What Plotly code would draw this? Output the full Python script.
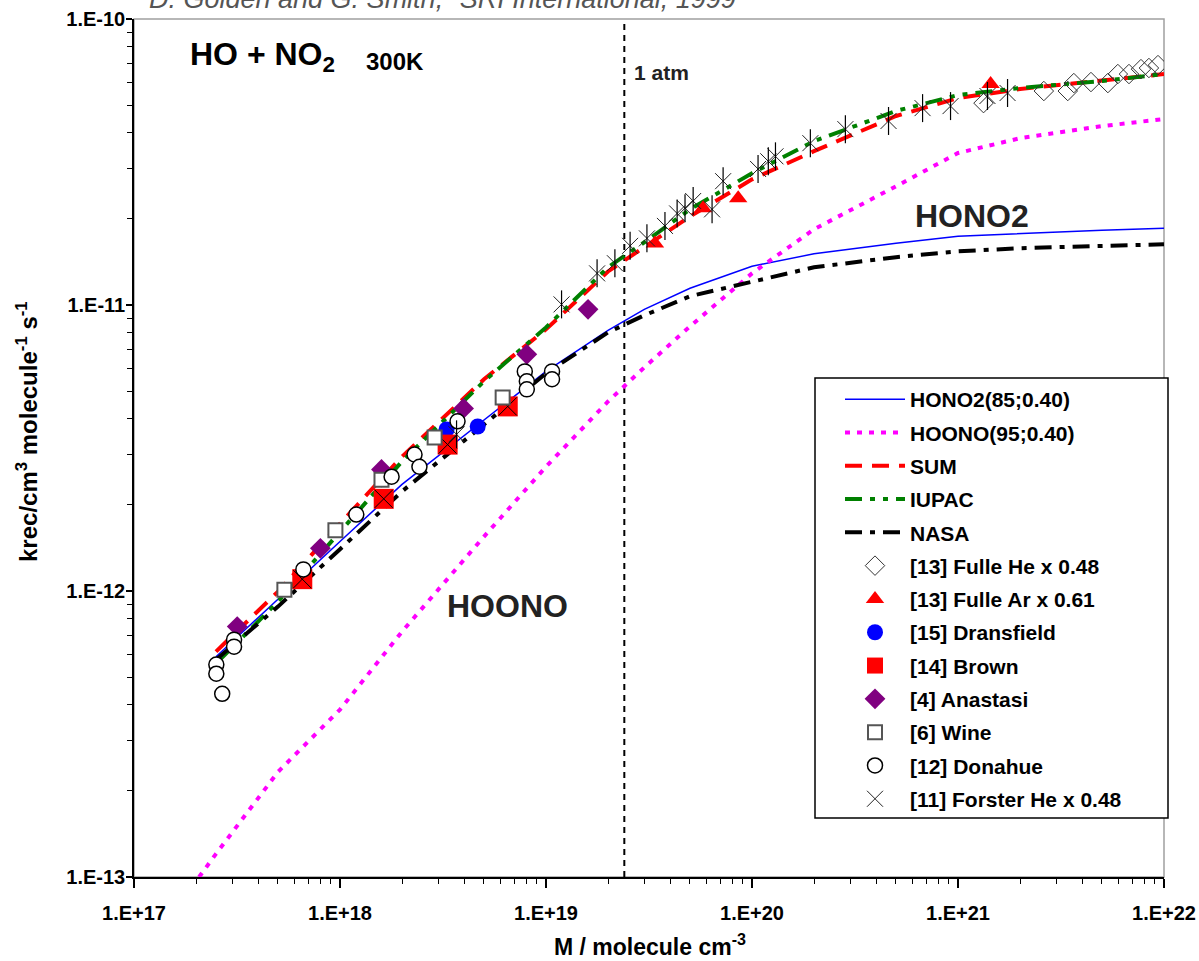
import plotly.graph_objects as go

# ---------------- data ----------------
M_CURVE = [2.5e17, 5e17, 1e18, 2e18, 5e18, 1e19, 2e19, 3e19, 5e19, 1e20, 2e20, 5e20, 1e21, 2e21, 5e21, 1e22]
K_HONO2 = [5.89e-13, 9.4e-13, 1.49e-12, 2.36e-12, 3.95e-12, 5.86e-12, 8.15e-12, 9.66e-12, 1.144e-11,
           1.366e-11, 1.51e-11, 1.644e-11, 1.74e-11, 1.78e-11, 1.826e-11, 1.855e-11]
K_SUM = [6.14e-13, 9.95e-13, 1.72e-12, 2.95e-12, 5.50e-12, 8.22e-12, 1.31e-11, 1.59e-11, 2.04e-11,
         2.75e-11, 3.45e-11, 4.58e-11, 5.29e-11, 5.69e-11, 6.07e-11, 6.42e-11]
K_IUPAC = [5.57e-13, 9.18e-13, 1.61e-12, 2.84e-12, 5.41e-12, 8.35e-12, 1.355e-11, 1.657e-11, 2.16e-11,
           2.89e-11, 3.74e-11, 4.77e-11, 5.42e-11, 5.74e-11, 6.07e-11, 6.42e-11]
K_NASA = [5.75e-13, 8.82e-13, 1.40e-12, 2.23e-12, 3.82e-12, 5.77e-12, 8.02e-12, 9.20e-12, 1.073e-11,
          1.21e-11, 1.355e-11, 1.47e-11, 1.54e-11, 1.58e-11, 1.606e-11, 1.63e-11]

M_HOONO = [2.07e17, 2.5e17, 5e17, 1e18, 2e18, 5e18, 1e19, 2e19, 3e19, 5e19, 1e20, 2e20, 5e20, 1e21, 2e21, 5e21, 1e22]
K_HOONO = [1.0e-13, 1.205e-13, 2.33e-13, 3.85e-13, 7.21e-13, 1.55e-12, 2.72e-12, 4.60e-12, 6.05e-12,
           8.42e-12, 1.29e-11, 1.84e-11, 2.60e-11, 3.40e-11, 3.83e-11, 4.22e-11, 4.47e-11]

M_FULLE_HE = [1.33e21, 2.61e21, 3.41e21, 3.65e21, 4.42e21, 5.34e21, 5.97e21, 6.76e21, 7.73e21, 8.45e21, 9.35e21]
K_FULLE_HE = [5.08e-11, 5.60e-11, 5.60e-11, 5.97e-11, 6.02e-11, 5.97e-11, 6.42e-11, 6.42e-11, 6.68e-11, 6.74e-11, 6.90e-11]

M_FULLE_AR = [3.38e19, 5.79e19, 8.57e19, 1.44e21]
K_FULLE_AR = [1.64e-11, 2.18e-11, 2.36e-11, 5.92e-11]

M_DRANSFIELD = [3.29e18, 4.66e18]
K_DRANSFIELD = [3.67e-12, 3.76e-12]

M_BROWN = [6.56e17, 1.63e18, 3.33e18, 6.52e18]
K_BROWN = [1.10e-12, 2.10e-12, 3.25e-12, 4.42e-12]

M_ANASTASI = [3.17e17, 8.03e17, 1.59e18, 3.98e18, 8.07e18, 1.60e19]
K_ANASTASI = [7.51e-13, 1.41e-12, 2.66e-12, 4.35e-12, 6.72e-12, 9.66e-12]

M_WINE = [5.37e17, 9.50e17, 1.59e18, 2.88e18, 6.16e18]
K_WINE = [1.01e-12, 1.63e-12, 2.45e-12, 3.44e-12, 4.75e-12]

M_DONAHUE = [2.51e17, 2.51e17, 2.68e17, 3.06e17, 3.06e17, 6.64e17, 1.20e18, 1.78e18, 2.30e18,
             2.43e18, 3.72e18, 7.89e18, 8.07e18, 8.07e18, 1.07e19, 1.07e19]
K_DONAHUE = [5.53e-13, 5.14e-13, 4.37e-13, 6.76e-13, 6.39e-13, 1.19e-12, 1.85e-12, 2.51e-12, 3.00e-12,
             2.72e-12, 3.92e-12, 5.86e-12, 5.41e-12, 5.07e-12, 5.86e-12, 5.50e-12]

M_FORSTER = [3.68e18, 1.19e19, 1.77e19, 2.16e19, 2.56e19, 3.09e19, 3.78e19, 4.33e19, 4.73e19, 5.18e19,
             6.40e19, 7.24e19, 1.07e20, 1.20e20, 1.30e20, 1.92e20, 2.84e20, 4.60e20, 6.73e20, 9.20e20,
             1.39e21, 1.74e21]
K_FORSTER = [3.53e-12, 1.005e-11, 1.29e-11, 1.40e-11, 1.61e-11, 1.71e-11, 1.89e-11, 2.09e-11, 2.18e-11, 2.31e-11,
             2.16e-11, 2.71e-11, 2.99e-11, 3.18e-11, 3.31e-11, 3.68e-11, 4.12e-11, 4.40e-11, 4.88e-11, 4.96e-11,
             5.38e-11, 5.51e-11]

M_ONE_ATM = 2.4e19
K_RANGE = [1e-13, 1e-10]

X_TICKS = [1e17, 1e18, 1e19, 1e20, 1e21, 1e22]
X_TICKTEXT = ["1.E+17", "1.E+18", "1.E+19", "1.E+20", "1.E+21", "1.E+22"]
Y_TICKS = [1e-13, 1e-12, 1e-11, 1e-10]
Y_TICKTEXT = ["1.E-13", "1.E-12", "1.E-11", "1.E-10"]

FONT = "Liberation Sans, Arial, sans-serif"

fig = go.Figure()

# 1 atm dashed line
fig.add_trace(go.Scatter(x=[M_ONE_ATM, M_ONE_ATM], y=K_RANGE, mode="lines",
                         line=dict(color="black", width=2, dash="6px,5px"),
                         showlegend=False, hoverinfo="skip"))

fig.add_trace(go.Scatter(x=M_CURVE, y=K_HONO2, mode="lines", name="HONO2(85;0.40)", legendgroup="a",
                         line=dict(color="#0000ff", width=1.5)))
fig.add_trace(go.Scatter(x=M_HOONO, y=K_HOONO, mode="lines", name="HOONO(95;0.40)", legendgroup="b",
                         line=dict(color="#ff00ff", width=4, dash="5px,7px")))
fig.add_trace(go.Scatter(x=M_CURVE, y=K_SUM, mode="lines", name="SUM", legendgroup="c",
                         line=dict(color="#ff0000", width=4, dash="17px,10px")))
fig.add_trace(go.Scatter(x=M_CURVE, y=K_IUPAC, mode="lines", name="IUPAC", legendgroup="d",
                         line=dict(color="#008000", width=4, dash="17px,8px,5px,8px,5px,8px")))
fig.add_trace(go.Scatter(x=M_CURVE, y=K_NASA, mode="lines", name="NASA", legendgroup="e",
                         line=dict(color="black", width=4, dash="17px,8px,5px,8px")))

fig.add_trace(go.Scatter(x=M_FULLE_HE, y=K_FULLE_HE, mode="markers", name="[13] Fulle He x 0.48", legendgroup="f",
                         marker=dict(symbol="diamond-open", size=15, color="#333333", line=dict(width=1))))
fig.add_trace(go.Scatter(x=M_FULLE_AR, y=K_FULLE_AR, mode="markers", name="[13] Fulle Ar x 0.61", legendgroup="g",
                         marker=dict(symbol="triangle-up", size=16, color="#ff0000", line=dict(width=0))))
fig.add_trace(go.Scatter(x=M_DRANSFIELD, y=K_DRANSFIELD, mode="markers", name="[15] Dransfield", legendgroup="h",
                         marker=dict(symbol="circle", size=16, color="#0000ff", line=dict(width=0))))
fig.add_trace(go.Scatter(x=M_BROWN, y=K_BROWN, mode="markers", name="[14] Brown", legendgroup="i",
                         marker=dict(symbol="square", size=20, color="#ff0000", line=dict(width=0))))
fig.add_trace(go.Scatter(x=M_BROWN, y=K_BROWN, mode="markers", showlegend=False, hoverinfo="skip", legendgroup="i",
                         marker=dict(symbol="x-thin-open", size=18, color="black", line=dict(width=1, color="black"))))
fig.add_trace(go.Scatter(x=M_ANASTASI, y=K_ANASTASI, mode="markers", name="[4] Anastasi", legendgroup="j",
                         marker=dict(symbol="diamond", size=16, color="#800080", line=dict(width=0))))
fig.add_trace(go.Scatter(x=M_WINE, y=K_WINE, mode="markers", name="[6] Wine", legendgroup="k",
                         marker=dict(symbol="square", size=14, color="white", line=dict(width=2, color="#555555"))))
fig.add_trace(go.Scatter(x=M_DONAHUE, y=K_DONAHUE, mode="markers", name="[12] Donahue", legendgroup="l",
                         marker=dict(symbol="circle", size=15, color="white", line=dict(width=1.5, color="black"))))
fig.add_trace(go.Scatter(x=M_FORSTER, y=K_FORSTER, mode="markers", name="[11] Forster He x 0.48", legendgroup="m",
                         marker=dict(symbol="x-thin-open", size=16, color="#222222", line=dict(width=1, color="#222222"))))
fig.add_trace(go.Scatter(x=M_FORSTER, y=K_FORSTER, mode="markers", showlegend=False, hoverinfo="skip", legendgroup="m",
                         marker=dict(symbol="line-ns-open", size=20, color="black", line=dict(width=1.2, color="black"))))

L, R, T, B = 134, 35, 19, 84
W, H = 1199, 961
PW, PH = W - L - R, H - T - B


def px_x(p):
    return (p - L) / PW


def px_y(p):
    return 1 - (p - T) / PH


annotations = [
    dict(text="<i>D. Golden and G. Smith, \u201cSRI International, 1999</i>", xref="paper", yref="paper",
         x=px_x(147), y=px_y(16), xanchor="left", yanchor="bottom", showarrow=False,
         font=dict(family=FONT, size=27, color="#555555")),
    dict(text="<b>HO + NO<sub>2</sub></b>", xref="paper", yref="paper", x=px_x(188), y=px_y(57),
         xanchor="left", yanchor="middle", showarrow=False,
         font=dict(family=FONT, size=32, color="black")),
    dict(text="<b>300K</b>", xref="paper", yref="paper", x=px_x(364), y=px_y(61),
         xanchor="left", yanchor="middle", showarrow=False,
         font=dict(family=FONT, size=24, color="black")),
    dict(text="<b>1 atm</b>", xref="paper", yref="paper", x=px_x(632), y=px_y(73),
         xanchor="left", yanchor="middle", showarrow=False,
         font=dict(family=FONT, size=21, color="#222222")),
    dict(text="<b>HONO2</b>", xref="paper", yref="paper", x=px_x(972), y=px_y(216),
         xanchor="center", yanchor="middle", showarrow=False,
         font=dict(family=FONT, size=32, color="#222222")),
    dict(text="<b>HOONO</b>", xref="paper", yref="paper", x=px_x(507), y=px_y(606),
         xanchor="center", yanchor="middle", showarrow=False,
         font=dict(family=FONT, size=32, color="#222222")),
    dict(text="<b>krec/cm<sup>3</sup> molecule<sup>-1</sup> s<sup>-1</sup></b>", xref="paper", yref="paper",
         x=px_x(27), y=px_y(432), xanchor="center", yanchor="middle", textangle=-90, showarrow=False,
         font=dict(family=FONT, size=24, color="black")),
    dict(text="<b>M / molecule cm<sup>-3</sup></b>", xref="paper", yref="paper",
         x=px_x(650), y=px_y(945), xanchor="center", yanchor="middle", showarrow=False,
         font=dict(family=FONT, size=23, color="black")),
]

fig.update_layout(
    width=W, height=H,
    margin=dict(l=L, r=R, t=T, b=B, pad=0, autoexpand=False),
    paper_bgcolor="white", plot_bgcolor="white",
    showlegend=True,
    legend=dict(x=px_x(840), y=px_y(379), xanchor="left", yanchor="top",
                bgcolor="rgba(0,0,0,0)", borderwidth=0,
                font=dict(family=FONT, size=21, color="black", weight="bold"),
                itemwidth=60, tracegroupgap=3, itemsizing="trace"),
    annotations=annotations,
    shapes=[
        dict(type="rect", xref="paper", yref="paper", x0=0, x1=1, y0=0, y1=1,
             line=dict(color="#a0a0a0", width=1.5), layer="below"),
        # legend frame
        dict(type="rect", xref="paper", yref="paper", x0=px_x(815), x1=px_x(1168), y0=px_y(818), y1=px_y(378),
             line=dict(color="black", width=1.5), fillcolor="white", layer="above"),
    ],
)

fig.update_xaxes(type="log", range=[17, 22], showgrid=False, zeroline=False, automargin=False,
                 showline=True, linecolor="black", linewidth=1.5,
                 ticks="outside", ticklen=9, tickcolor="black", tickwidth=1.5,
                 tickvals=X_TICKS, ticktext=X_TICKTEXT, ticklabelstandoff=8, ticklabeloverflow="allow",
                 tickfont=dict(family=FONT, size=20, color="black", weight="bold"),
                 minor=dict(ticks="outside", ticklen=5, tickcolor="black", tickwidth=1, showgrid=False,
                            dtick="D1"))
fig.update_yaxes(type="log", range=[-13, -10], showgrid=False, zeroline=False, automargin=False,
                 showline=True, linecolor="black", linewidth=1.5,
                 ticks="outside", ticklen=6, tickcolor="black", tickwidth=1.5,
                 tickvals=Y_TICKS, ticktext=Y_TICKTEXT, ticklabelstandoff=-3, ticklabeloverflow="allow",
                 tickfont=dict(family=FONT, size=20, color="black", weight="bold"),
                 minor=dict(ticks="outside", ticklen=5, tickcolor="black", tickwidth=1, showgrid=False,
                            dtick="D1"))

fig.write_html("out.html", config={"displayModeBar": False},
               post_script="document.body.style.margin='0';")
